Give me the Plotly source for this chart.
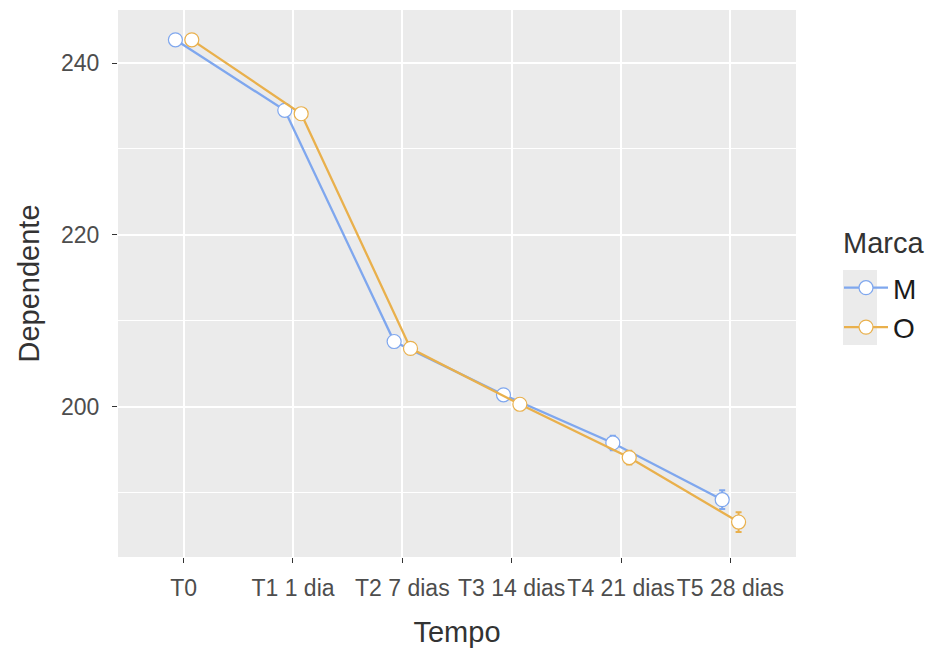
import plotly.graph_objects as go

categories = ["T0", "T1 1 dia", "T2 7 dias", "T3 14 dias", "T4 21 dias", "T5 28 dias"]
m_values = [242.7, 234.5, 207.6, 201.4, 195.8, 189.2]
o_values = [242.7, 234.1, 206.8, 200.3, 194.1, 186.6]
m_err = [0.5, 0.5, 0.5, 0.6, 0.85, 1.1]
o_err = [0.5, 0.5, 0.5, 0.6, 0.8, 1.15]
series_names = ["M", "O"]
legend_title = "Marca"
colors = ["#7FA7EE", "#E9B04C"]
dodge = 0.075

FONT = "Liberation Sans, Arial, sans-serif"
PW, PH, L, B = 678, 547, 118, 557

fig = go.Figure()
for name, vals, errs, col, off in [
    (series_names[0], m_values, m_err, colors[0], -dodge),
    (series_names[1], o_values, o_err, colors[1], dodge),
]:
    xs = [i + off for i in range(len(categories))]
    fig.add_trace(go.Scatter(
        x=xs, y=vals, name=name, mode="lines+markers",
        line=dict(color=col, width=2.3),
        marker=dict(symbol="circle", size=14, color="white", line=dict(color=col, width=1.2)),
        error_y=dict(type="data", array=errs, visible=True, color=col, thickness=2, width=3),
    ))

fig.update_layout(
    width=933, height=650,
    margin=dict(l=118, r=137, t=10, b=93),
    paper_bgcolor="white", plot_bgcolor="#EBEBEB",
    font=dict(family=FONT, color="#4D4D4D"),
    showlegend=True,
    legend=dict(
        font=dict(size=28, color="#1A1A1A"),
        x=(839 - L) / PW, xanchor="left", y=(B - 307.5) / PH, yanchor="middle",
        bgcolor="rgba(0,0,0,0)", itemwidth=44, tracegroupgap=0,
    ),
    annotations=[dict(text=legend_title, xref="paper", yref="paper",
                      x=(841 - L) / PW, y=(B - 243) / PH, xanchor="left", yanchor="middle",
                      showarrow=False, font=dict(size=29, color="#333333", family=FONT))],
    shapes=[dict(type="rect", xref="paper", yref="paper",
                 x0=(843 - L) / PW, x1=(877 - L) / PW,
                 y0=(B - 345) / PH, y1=(B - 270) / PH,
                 fillcolor="#EBEBEB", line=dict(width=0), layer="below")],
)
fig.update_xaxes(
    range=[-0.6, 5.6], tickmode="array", tickvals=list(range(len(categories))),
    ticktext=categories, tickangle=0, automargin=False, ticklabelstandoff=5,
    showgrid=True, gridcolor="white", gridwidth=1.6, zeroline=False,
    ticks="outside", ticklen=5, tickcolor="#333333", tickwidth=1.2,
    tickfont=dict(size=23, color="#4D4D4D", family=FONT),
    title=dict(text="Tempo", font=dict(size=29, color="#333333", family=FONT), standoff=22),
    showline=False,
)
fig.update_yaxes(
    range=[182.53, 246.17], tickmode="array", tickvals=[200, 220, 240], automargin=False,
    ticklabelstandoff=8,
    showgrid=True, gridcolor="white", gridwidth=1.6, zeroline=False,
    minor=dict(tickmode="array", tickvals=[190, 210, 230], showgrid=True, gridcolor="white", gridwidth=0.8, ticks=""),
    ticks="outside", ticklen=5, tickcolor="#333333", tickwidth=1.2,
    tickfont=dict(size=23, color="#4D4D4D", family=FONT),
    title=dict(text="Dependente", font=dict(size=29, color="#333333", family=FONT), standoff=12),
    showline=False,
)
fig.write_html("out.html")
